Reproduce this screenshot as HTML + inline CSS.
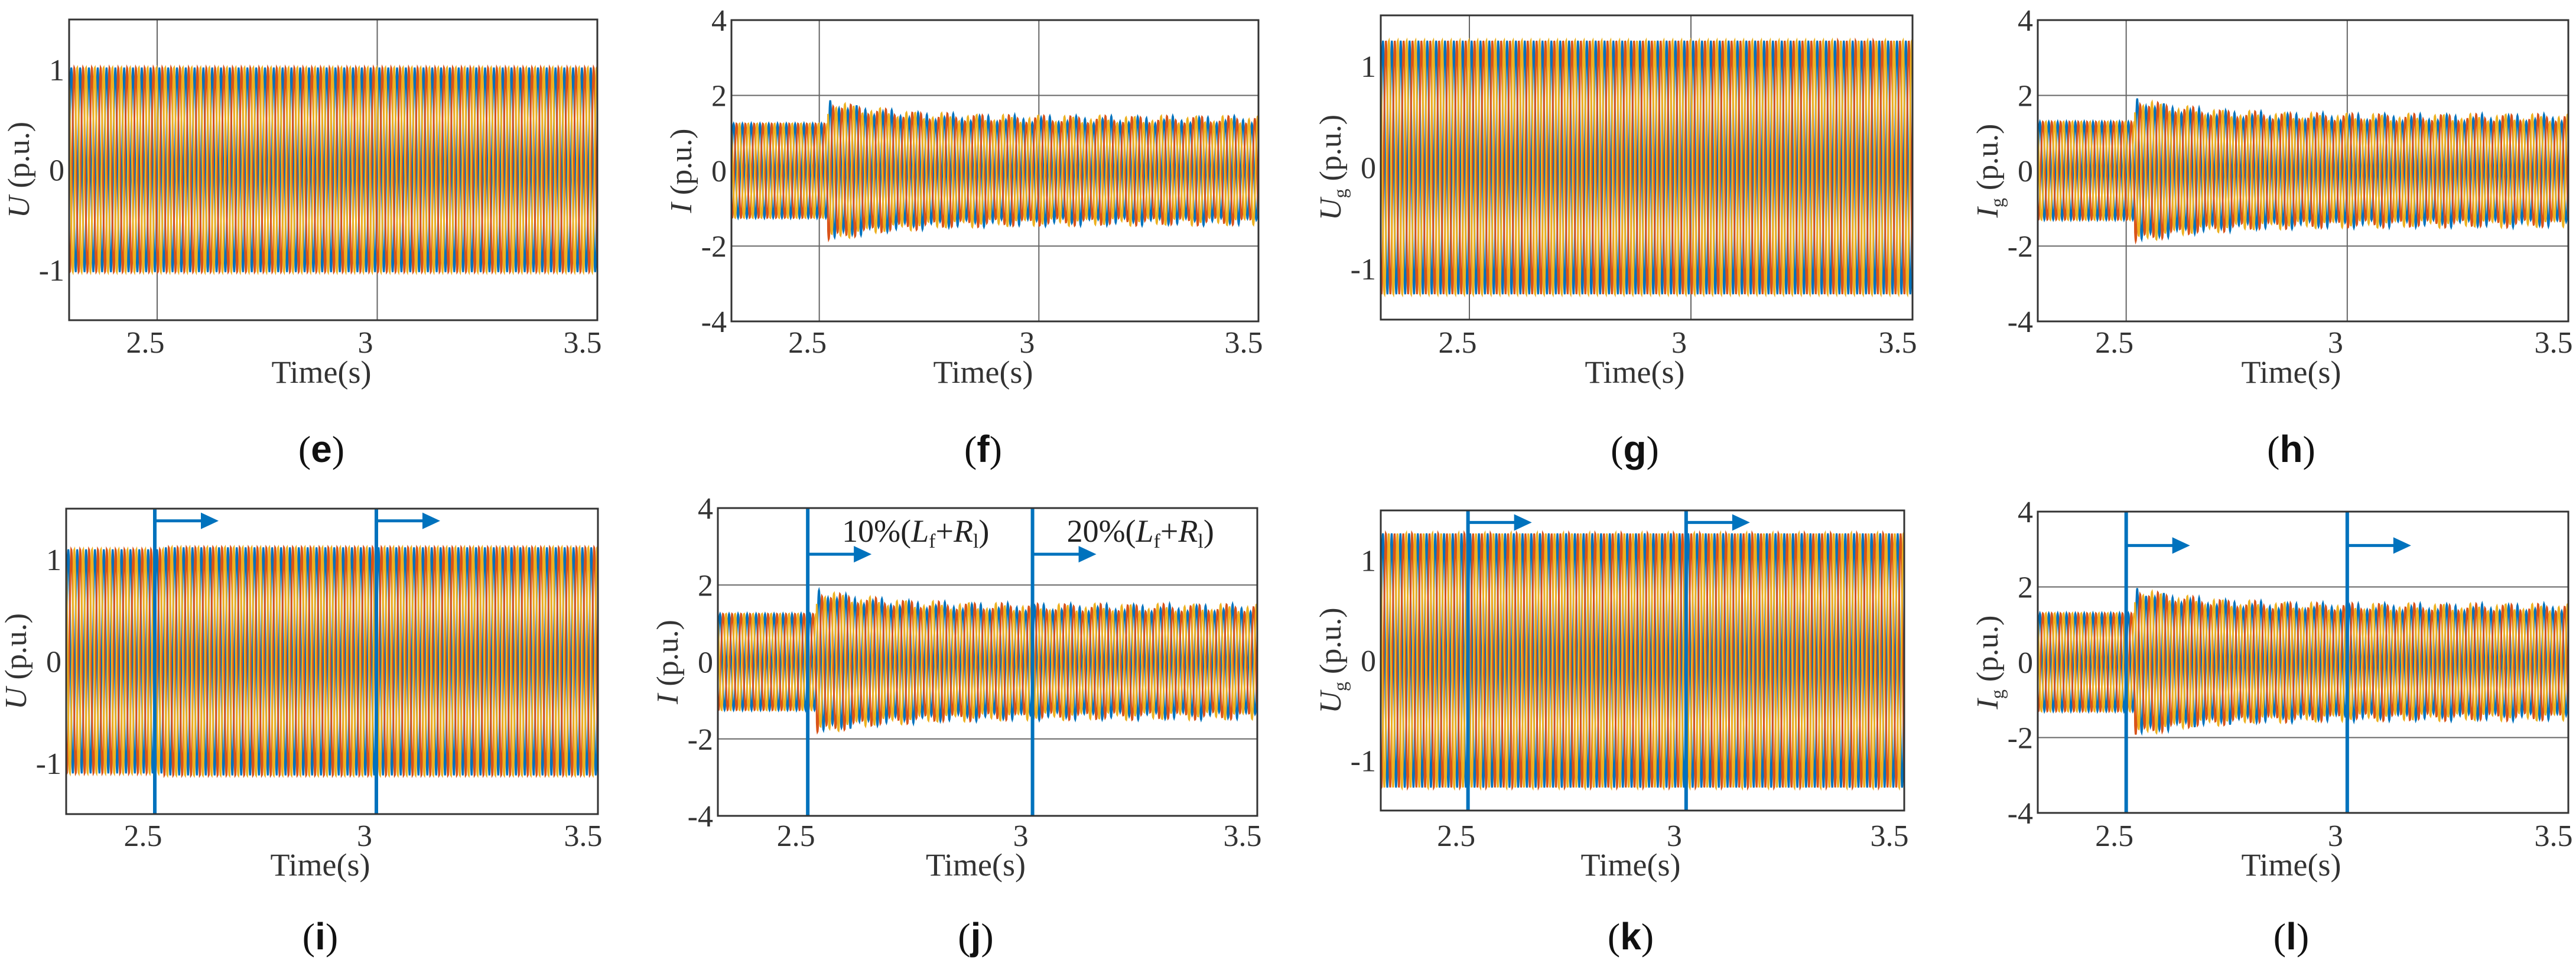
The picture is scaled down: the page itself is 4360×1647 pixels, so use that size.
<!DOCTYPE html>
<html><head><meta charset="utf-8">
<style>
html,body{margin:0;padding:0;background:#fff;}
svg{display:block;font-family:"Liberation Serif",serif;}
</style></head>
<body>
<svg id="fig" width="4360" height="1647" viewBox="0 0 4360 1647" xmlns="http://www.w3.org/2000/svg"></svg>
<script>
// ---- data ----
const panelIds = ['e','f','g','h','i','j','k','l'];
const panelKinds = ['U','I','Ug','Ig','U','I','Ug','Ig'];
const preAmp   = [1.02,1.25,1.25,1.3,1.1,1.25,1.27,1.3];
const peakAmp  = [1.02,1.8,1.25,1.85,1.12,1.8,1.27,1.9];
const steadyAmp= [1.02,1.35,1.25,1.4,1.12,1.4,1.27,1.45];
const modAmp   = [0,0.1,0,0.1,0,0.1,0,0.1];
const event1   = [2.5,2.5,2.5,2.5,2.5,2.5,2.5,2.5];
const event2   = [3.0,3.0,3.0,3.0,3.0,3.0,3.0,3.0];
const showEvents = [false,false,false,false,true,true,true,true];
const xTicks = [2.5,3,3.5];
const xTickLabels = ['2.5','3','3.5'];
const uTicks = [-1,0,1];
const iTicks = [-4,-2,0,2,4];
const iGrid = [-2,2];
const freqHz = 50;
const modHz = 14;
// ---- layout ----
const boxes = [[117,33,1011,542],[1238,34,2130,544],[2337,26,3237,541],[3449,34,4347,544],
               [112,861,1012,1378],[1215,860,2128,1381],[2337,864,3223,1372],[3449,866,4347,1376]];
const rowText = [{tick:597,time:648,cap:782},{tick:1432,time:1482,cap:1607}];
const colors = ['#0072BD','#D95319','#EDB120'];
const svg = document.getElementById('fig');
const NS = 'http://www.w3.org/2000/svg';
function el(tag, attrs, parent){const e=document.createElementNS(NS,tag);for(const k in attrs)e.setAttribute(k,attrs[k]);(parent||svg).appendChild(e);return e;}

panelIds.forEach((id,p)=>{
  const [x0,y0,x1,y1]=boxes[p];
  const kind=panelKinds[p];
  const isI = kind==='I'||kind==='Ig';
  const ylim = isI?[-4,4]:[-1.5,1.5];
  const xs = t=> x0+(t-2.3)/(3.5-2.3)*(x1-x0);
  const ys = v=> y1-(v-ylim[0])/(ylim[1]-ylim[0])*(y1-y0);
  const row = p<4?0:1;
  const g = el('g',{});
  
  
  const clipId='clip'+id;
  const cp=el('clipPath',{id:clipId},g); el('rect',{x:x0,y:y0,width:x1-x0,height:y1-y0},cp);
  [2.5,3].forEach(t=>{const l=el('line',{x1:xs(t),x2:xs(t),y1:y0,y2:y1,stroke:'#666','stroke-width':2},g);
    });
  if(isI) iGrid.forEach(v=>{const l=el('line',{x1:x0,x2:x1,y1:ys(v),y2:ys(v),stroke:'#666','stroke-width':2},g);
    });
  const wg=el('g',{'clip-path':'url(#'+clipId+')'},g);
  for(let ph=0;ph<3;ph++){
    let d='';
    for(let k=0;k<=2400;k++){
      const t=2.3+k*0.0005;
      let a;
      if(t<event1[p]+0.02) a=preAmp[p];
      else a=steadyAmp[p]+(peakAmp[p]-steadyAmp[p])*Math.exp(-(t-event1[p]-0.02)/0.15)+modAmp[p]*Math.sin(2*Math.PI*modHz*t+ph);
      const v=a*Math.sin(2*Math.PI*freqHz*t-ph*2*Math.PI/3);
      d+=(k?'L':'M')+xs(t).toFixed(1)+' '+ys(v).toFixed(1);
    }
    const path=el('path',{d:d,fill:'none',stroke:colors[ph],'stroke-width':3},wg);
    
    
  }
  if(showEvents[p]){
    const ay = isI ? (kind==='I'?ys(2.8):ys(3.1)) : ys(1.38);
    [event1[p],event2[p]].forEach((t,i)=>{
      const l=el('line',{x1:xs(t),x2:xs(t),y1:y0,y2:y1,stroke:'#0072BD','stroke-width':6},g);
      
      const ax=xs(t);
      const a=el('g',{},g);
      
      el('line',{x1:ax,x2:ax+80,y1:ay,y2:ay,stroke:'#0072BD','stroke-width':5},a);
      el('polygon',{points:`${ax+78},${ay-14} ${ax+108},${ay} ${ax+78},${ay+14}`,fill:'#0072BD'},a);
      if(kind==='I'){
        const tx=el('text',{x:ax+58,y:ys(3.4)+18,'font-size':54,fill:'#222'},g);
        
        tx.innerHTML=(i?'20':'10')+'%(<tspan font-style="italic">L</tspan><tspan font-size="34" dy="10">f</tspan><tspan dy="-10">+</tspan><tspan font-style="italic">R</tspan><tspan font-size="34" dy="10">l</tspan><tspan dy="-10">)</tspan>';
      }
    });
  }
  const b=el('rect',{x:x0,y:y0,width:x1-x0,height:y1-y0,fill:'none',stroke:'#333','stroke-width':3},g);
  
  xTicks.forEach((t,i)=>{
    const tx=el('text',{x:xs(t)-(i==2?25:20),y:rowText[row].tick,'font-size':52,'text-anchor':'middle',fill:'#333'},g);
    tx.textContent=xTickLabels[i];
    
  });
  (isI?iTicks:uTicks).forEach(v=>{
    const tx=el('text',{x:x0-8,y:ys(v)+18,'font-size':52,'text-anchor':'end',fill:'#333'},g);
    tx.textContent=String(v);
    
  });
  const xl=el('text',{x:(x0+x1)/2-20,y:rowText[row].time,'font-size':54,'text-anchor':'middle',fill:'#333'},g);
  xl.textContent='Time(s)';
  
  const yc=(y0+y1)/2, yx=x0-68;
  const yl=el('text',{x:yx,y:yc,'font-size':52,'text-anchor':'middle',fill:'#333',transform:`rotate(-90 ${yx} ${yc})`},g);
  const sym = kind[0];
  yl.innerHTML='<tspan font-style="italic">'+sym+'</tspan>'+(kind.length>1?'<tspan font-size="32" dy="10">g</tspan><tspan dy="-10"> (p.u.)</tspan>':' (p.u.)');
  
  const cap=el('text',{x:(x0+x1)/2-20,y:rowText[row].cap,'font-size':64,'text-anchor':'middle',fill:'#111'},g);
  cap.innerHTML='(<tspan font-weight="bold" font-family="Liberation Sans, sans-serif">'+id+'</tspan>)';
  
});
</script>
</body></html>
